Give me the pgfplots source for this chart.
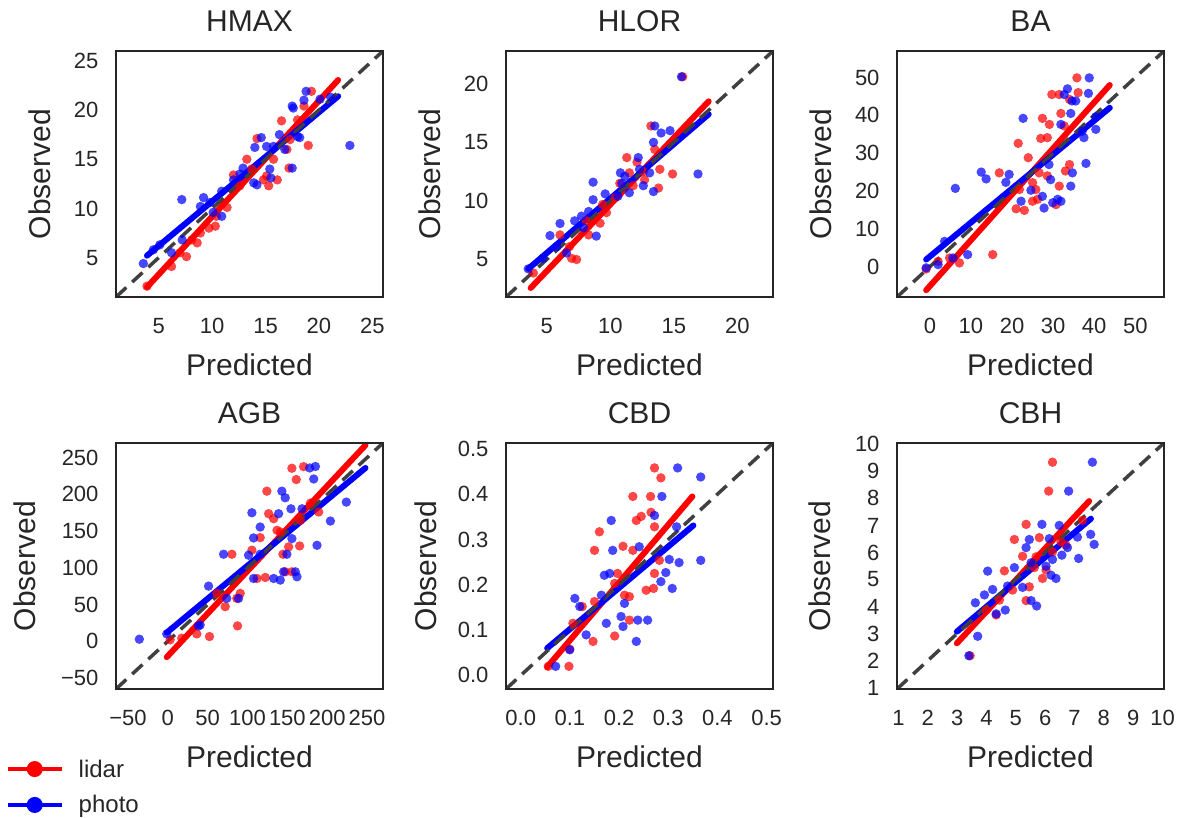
\documentclass[border=0pt]{standalone}
\usepackage{fontspec}
\setmainfont{Liberation Sans}
\usepackage{pgfplots}
\pgfplotsset{compat=1.18}
\definecolor{txt}{gray}{0.15}
\definecolor{dsh}{gray}{0.25}
\pgfplotsset{
  panel/.style={
    scale only axis, width=267pt, height=246pt, anchor=south west,
    axis on top=true,
    axis line style={line width=1.6pt, color=txt},
    major tick length=0pt, tick style={draw=none},
    /pgf/number format/assume math mode=true,
    ticklabel style={font=\fontsize{22}{22}\selectfont, text=txt},
    xticklabel style={yshift=-18pt},
    yticklabel style={xshift=-14pt},
    title style={font=\fontsize{30}{30}\selectfont, text=txt, at={(axis description cs:0.5,1.098)}, anchor=center},
    label style={font=\fontsize{30}{30}\selectfont, text=txt},
    xlabel={Predicted}, ylabel={Observed},
    xlabel style={at={(axis description cs:0.5,-0.276)}, anchor=center},
    ylabel style={at={(axis description cs:-0.285,0.5)}, anchor=center},
    clip=true,
  },
  rdot/.style={only marks, color=red, mark=*, mark size=4.7pt, mark options={draw=none, draw opacity=0, fill=red, fill opacity=0.72}},
  bdot/.style={only marks, color=blue, mark=*, mark size=4.7pt, mark options={draw=none, draw opacity=0, fill=blue, fill opacity=0.72}},
  rline/.style={red, line width=6pt, line cap=round, no marks},
  bline/.style={blue, line width=6pt, line cap=round, no marks},
  dline/.style={dsh, line width=3.5pt, dash pattern=on 14pt off 8pt, no marks},
}
\begin{document}
\begin{tikzpicture}
\path[use as bounding box] (0,0) rectangle (1179pt,818pt);
% ---------- HMAX
\begin{axis}[panel, at={(116pt,521pt)}, title={HMAX},
  xmin=1, xmax=26, ymin=1, ymax=26, xtick={5,10,15,20,25}, ytick={5,10,15,20,25}]
\addplot[rdot] table {
3.9 2.1
6.2 4.1
7.0 5.5
8.6 6.5
9.7 8.0
10.4 9.2
11.4 10.1
12.0 13.4
12.6 12.3
14.2 17.1
14.8 12.9
15.3 12.3
16.1 12.9
16.5 18.9
17.2 14.1
17.3 17.0
18.6 20.4
19.0 16.4
19.3 21.9
17.0 16.0
15.1 13.3
13.25 15.0
8.1 6.8
7.6 5.1
8.9 7.5
10.3 8.2
13.7 14.0
18.0 19.0
15.75 15.0
};
\addplot[bdot] table {
3.56 4.4
7.16 10.9
9.2 11.1
8.9 10.2
10.9 11.75
10.9 9.2
7.2 6.8
6.2 5.5
12.9 14.1
13.9 12.6
14.2 12.4
14.0 16.2
14.6 17.2
15.1 16.3
15.75 16.3
15.4 14.0
15.5 13.1
16.3 17.5
16.8 16.0
17.5 20.4
17.6 20.2
18.0 17.3
18.2 17.2
18.6 21.0
18.8 21.9
17.5 14.1
20.1 21.1
21.1 21.3
22.9 16.4
9.8 10.6
10.1 9.6
5.1 6.3
4.5 5.8
12.0 12.9
12.6 13.5
};
\addplot[rline] coordinates {(3.9,2.0) (21.8,23.05)};
\addplot[bline] coordinates {(3.9,5.2) (21.8,21.4)};
\addplot[dline] coordinates {(1,1) (26,26)};
\end{axis}
% ---------- HLOR
\begin{axis}[panel, at={(506pt,521pt)}, title={HLOR},
  xmin=1.8, xmax=22.8, ymin=1.8, ymax=22.8, xtick={5,10,15,20}, ytick={5,10,15,20}]
\addplot[rdot] table {
3.95 3.85
6.05 7.1
6.96 5.1
7.35 5.0
8.3 7.1
9.2 8.1
9.7 9.0
10.4 10.3
11.3 13.7
11.8 11.3
12.1 13.3
12.7 11.8
13.2 16.4
13.5 14.4
13.8 11.1
13.9 12.7
14.9 12.3
15.7 20.6
10.75 11.5
11.5 12.4
6.8 6.1
8.1 8.3
9.4 9.7
12.6 12.5
};
\addplot[bdot] table {
3.55 4.2
5.26 7.04
6.05 8.07
4.7 5.1
6.56 5.56
7.74 8.7
8.65 10.1
8.65 11.6
8.9 7.0
9.6 10.6
10.8 12.4
10.9 11.5
11.15 12.1
12.2 13.7
12.3 12.7
13.4 15.0
13.5 16.4
14.0 15.8
14.7 16.0
13.4 10.8
13.1 12.4
12.6 11.3
11.5 10.7
15.6 20.6
16.9 12.3
10.6 10.4
7.9 7.7
7.2 8.3
8.3 9.1
5.8 6.1
};
\addplot[rline] coordinates {(3.74,2.57) (17.74,18.5)};
\addplot[bline] coordinates {(3.55,4.2) (17.74,17.4)};
\addplot[dline] coordinates {(1.8,1.8) (22.8,22.8)};
\end{axis}
% ---------- BA
\begin{axis}[panel, at={(897pt,521pt)}, title={BA},
  xmin=-8, xmax=57, ymin=-8, ymax=57, xtick={0,10,20,30,40,50}, ytick={0,10,20,30,40,50}]
\addplot[rdot] table {
-0.9 -0.6
2.0 1.4
7.2 1.0
15.3 3.2
16.9 24.8
21.0 15.3
23.0 14.9
21.8 20.4
21.5 32.6
23.95 28.8
25.0 22.2
25.8 20.4
25.0 17.3
27.0 33.9
27.4 39.2
28.6 34.1
29.1 37.6
29.7 45.5
31.5 45.5
31.9 40.5
32.7 37.2
31.5 21.3
30.7 16.4
34.0 27.0
33.0 25.3
34.0 44.2
35.8 49.9
36.1 46.0
28.6 24.0
26.2 17.8
26.6 24.8
4.8 2.3
};
\addplot[bdot] table {
-0.9 -0.3
2.0 0.55
3.6 6.7
6.2 20.7
5.6 2.3
9.2 3.2
12.5 25.0
13.7 23.2
18.5 22.3
19.3 24.4
22.7 39.2
22.2 17.3
24.6 20.2
27.4 18.6
27.8 15.5
29.0 27.0
29.4 23.0
29.9 16.9
31.1 17.8
31.9 17.3
31.9 37.6
32.7 45.5
33.5 47.0
34.3 40.5
34.7 24.8
34.6 43.8
34.3 21.3
35.5 43.8
38.0 27.3
38.6 45.8
38.8 49.9
40.4 36.3
40.4 39.6
37.5 34.1
37.1 35.8
};
\addplot[rline] coordinates {(-0.9,-6.2) (43.8,48.0)};
\addplot[bline] coordinates {(-0.9,1.9) (43.8,42.0)};
\addplot[dline] coordinates {(-8,-8) (57,57)};
\end{axis}
% ---------- AGB
\begin{axis}[panel, at={(116pt,129pt)}, title={AGB},
  xmin=-65, xmax=270, ymin=-65, ymax=270,
  xtick={-50,0,50,100,150,200,250}, xticklabels={−50,0,50,100,150,200,250},
  ytick={-50,0,50,100,150,200,250}, yticklabels={−50,0,50,100,150,200,250},
  ylabel style={at={(axis description cs:-0.34,0.5)}},
  legend style={at={(axis description cs:-0.425,-0.27)}, anchor=north west, draw=none, fill=none,
    font=\fontsize{24}{24}\selectfont, text=txt, row sep=13pt, column sep=13pt},
  legend cell align=left,
  legend image code/.code={\draw[mark repeat=2,mark phase=2,#1] plot coordinates {(0pt,0pt) (27pt,0pt) (54pt,0pt)};}]
\addlegendimage{red, line width=4pt, mark=*, mark size=6pt, mark options={draw=none, fill=red}}
\addlegendentry{lidar}
\addlegendimage{blue, line width=4pt, mark=*, mark size=6pt, mark options={draw=none, fill=blue}}
\addlegendentry{photo}
\addplot[rdot, forget plot] table {
2.9 1.9
17.5 4.2
36.4 10.0
52.3 6.4
87.5 20.9
72 47.1
90.9 65.2
86.6 58.4
80.4 118.5
105.5 124
111.8 85.5
122.3 86.9
115.9 141.1
124.3 204.4
126.5 173.7
132.8 166.9
141.1 148.8
144.5 118.5
147.3 94.6
155.7 235.6
161.2 220.2
165.4 129.8
170.4 237.8
155.7 94.6
178.9 188.1
189.3 176
166.3 164.6
151.6 128.5
137 151.1
61.5 65.2
};
\addplot[bdot, forget plot] table {
-35.7 2.8
-1.3 10.0
40.6 22.2
51.1 75.1
70 118.5
74 58.4
88.8 58.4
101.3 117.2
107.6 85.5
107.6 140.7
105.5 175
115.9 155.6
132.8 85.5
141.1 83.3
145.3 94.6
139 173.7
143.1 204.4
147.3 195.4
149.4 118.5
155.7 139.8
154.5 180.4
160 94.6
162.1 87.8
168.4 180.4
178 236
185.2 238
183.1 221
187.2 130.7
204 163.7
224 189.5
38.5 20.9
115.9 118.5
};
\addplot[rline, forget plot] coordinates {(-1.3,-21.6) (248,267)};
\addplot[bline, forget plot] coordinates {(-1.3,11.8) (248,236)};
\addplot[dline, forget plot] coordinates {(-65,-65) (270,270)};
\end{axis}
% ---------- CBD
\begin{axis}[panel, at={(506pt,129pt)}, title={CBD},
  xmin=-0.03, xmax=0.513, ymin=-0.03, ymax=0.513,
  xtick={0,0.1,0.2,0.3,0.4,0.5}, xticklabels={0.0,0.1,0.2,0.3,0.4,0.5},
  ytick={0,0.1,0.2,0.3,0.4,0.5}, yticklabels={0.0,0.1,0.2,0.3,0.4,0.5},
  ylabel style={at={(axis description cs:-0.30,0.5)}}]
\addplot[rdot] table {
0.056 0.020
0.098 0.020
0.0996 0.058
0.106 0.115
0.147 0.075
0.125 0.152
0.15 0.163
0.15 0.276
0.16 0.317
0.191 0.087
0.191 0.203
0.208 0.285
0.211 0.177
0.221 0.122
0.228 0.395
0.235 0.342
0.245 0.351
0.255 0.188
0.264 0.395
0.265 0.36
0.27 0.192
0.272 0.225
0.272 0.328
0.272 0.458
0.285 0.436
0.282 0.254
0.228 0.276
0.221 0.174
0.197 0.225
};
\addplot[bdot] table {
0.071 0.020
0.0996 0.0565
0.11 0.17
0.12 0.152
0.133 0.0895
0.164 0.177
0.17 0.221
0.181 0.225
0.174 0.115
0.184 0.342
0.187 0.276
0.204 0.13
0.208 0.108
0.211 0.159
0.235 0.075
0.238 0.122
0.241 0.284
0.258 0.122
0.272 0.353
0.287 0.395
0.285 0.207
0.295 0.227
0.302 0.256
0.308 0.192
0.319 0.458
0.322 0.249
0.317 0.328
0.366 0.438
0.366 0.254
};
\addplot[rline] coordinates {(0.0537,0.0184) (0.349,0.395)};
\addplot[bline] coordinates {(0.0537,0.060) (0.351,0.331)};
\addplot[dline] coordinates {(-0.03,-0.03) (0.513,0.513)};
\end{axis}
% ---------- CBH
\begin{axis}[panel, at={(897pt,129pt)}, title={CBH},
  xmin=0.95, xmax=10.05, ymin=0.95, ymax=10.05,
  xtick={1,2,...,10}, ytick={1,2,...,10},
  ylabel style={at={(axis description cs:-0.29,0.5)}}]
\addplot[rdot] table {
3.44 2.18
3.99 3.87
4.33 3.69
4.61 5.32
4.44 4.24
4.95 6.48
5.35 4.22
5.46 4.73
5.35 7.04
5.23 5.86
5.63 5.44
5.8 6.55
5.91 5.04
6.03 5.35
6.12 8.27
6.25 9.34
6.25 6.02
6.54 6.39
6.71 6.27
5.69 5.84
4.89 4.61
7.27 7.19
};
\addplot[bdot] table {
3.4 2.18
3.7 2.9
3.62 4.14
3.93 4.43
4.04 5.31
4.21 4.63
4.33 3.73
4.64 3.87
4.72 4.76
4.95 5.44
5.23 4.71
5.35 6.18
5.46 6.48
5.52 5.62
5.52 4.22
5.71 4.02
5.89 7.04
6.03 5.49
6.14 6.51
6.25 5.74
6.37 5.04
6.48 7.0
6.57 5.9
6.76 6.18
6.8 8.27
7.1 6.57
7.14 5.78
7.55 6.67
7.67 6.3
7.61 9.34
6.2 5.16
};
\addplot[rline] coordinates {(2.99,2.64) (7.5,7.9)};
\addplot[bline] coordinates {(2.99,3.07) (7.56,7.25)};
\addplot[dline] coordinates {(0.95,0.95) (10.05,10.05)};
\end{axis}
\end{tikzpicture}
\end{document}
